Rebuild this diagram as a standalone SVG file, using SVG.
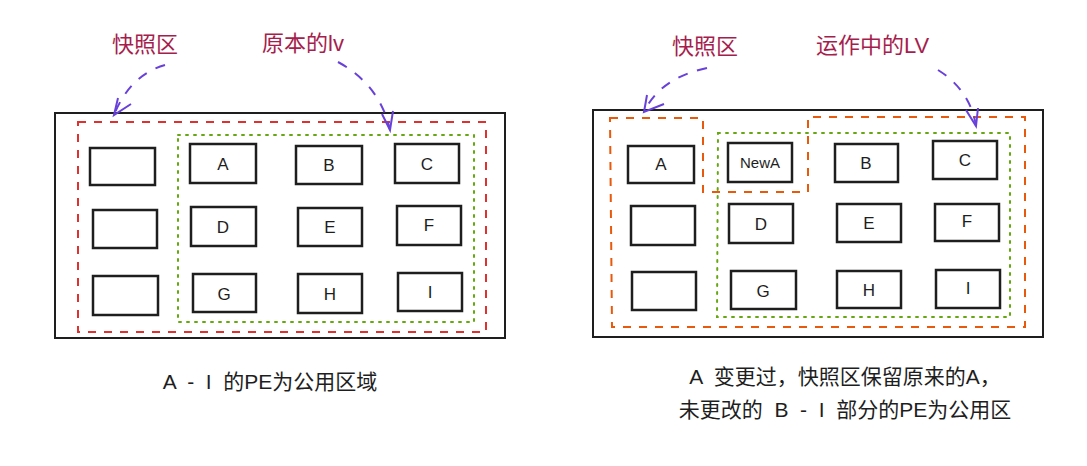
<svg xmlns="http://www.w3.org/2000/svg" width="1087" height="466" viewBox="0 0 1087 466">
<style>
.frame{fill:none;stroke:#1e1e1e;stroke-width:2}
.box{fill:none;stroke:#1e1e1e;stroke-width:2.5}
.red{fill:none;stroke:#e03131;stroke-width:2;stroke-dasharray:8 8}
.orange{fill:none;stroke:#e8590c;stroke-width:2;stroke-dasharray:8 8}
.green{fill:none;stroke:#66a80f;stroke-width:2;stroke-dasharray:2 6;stroke-linecap:round}
.arr{fill:none;stroke:#6741d9;stroke-width:2;stroke-dasharray:10 10}
.head{fill:none;stroke:#6741d9;stroke-width:2}
.lbl{font-family:"Liberation Sans","Noto Sans CJK SC",sans-serif;font-size:22px;fill:#a61e4d}
.t{font-family:"Liberation Sans",sans-serif;font-size:17px;fill:#1e1e1e;text-anchor:middle}
.cap{font-family:"Liberation Sans","Noto Sans CJK SC",sans-serif;font-size:21px;fill:#1e1e1e;text-anchor:middle}
</style>
<rect width="1087" height="466" fill="#fff"/>
<g id="left">
<rect class="frame" x="55" y="113" width="450" height="225"/>
<rect class="red" x="78" y="122" width="408" height="210"/>
<rect class="green" x="178" y="135" width="296" height="187"/>
<g id="l-e1"><rect class="box" x="90" y="148" width="65" height="37"/></g>
<g id="l-e2"><rect class="box" x="93" y="210" width="64" height="38"/></g>
<g id="l-e3"><rect class="box" x="93" y="276" width="65" height="39"/></g>
<g id="l-A"><rect class="box" x="190" y="144" width="66" height="39"/><text class="t" x="223" y="170">A</text></g>
<g id="l-B"><rect class="box" x="296" y="146" width="66" height="38"/><text class="t" x="329" y="171">B</text></g>
<g id="l-C"><rect class="box" x="395" y="144" width="64" height="39"/><text class="t" x="427" y="170">C</text></g>
<g id="l-D"><rect class="box" x="191" y="207" width="65" height="39"/><text class="t" x="223" y="233">D</text></g>
<g id="l-E"><rect class="box" x="298" y="208" width="64" height="38"/><text class="t" x="330" y="233">E</text></g>
<g id="l-F"><rect class="box" x="397" y="206" width="64" height="39"/><text class="t" x="429" y="231">F</text></g>
<g id="l-G"><rect class="box" x="193" y="274" width="63" height="38"/><text class="t" x="224" y="300">G</text></g>
<g id="l-H"><rect class="box" x="298" y="274" width="64" height="39"/><text class="t" x="330" y="300">H</text></g>
<g id="l-I"><rect class="box" x="398" y="273" width="64" height="38"/><text class="t" x="430" y="298">I</text></g>
<text class="lbl" x="112" y="52">快照区</text>
<text class="lbl" x="262" y="51">原本的lv</text>
<text class="cap" x="270" y="389" xml:space="preserve">A  -  I  的PE为公用区域</text>
</g>
<g id="right">
<rect class="frame" x="593" y="110" width="450" height="227"/>
<path class="orange" d="M610 118 H703 V192 H808 V117 H1025 V327 H612 Z"/>
<path class="green" d="M718 133 H1010 V317 H717 Z"/>
<g id="r-A"><rect class="box" x="628" y="146" width="66" height="37"/><text class="t" x="661" y="170">A</text></g>
<g id="r-NewA"><rect class="box" x="728" y="143" width="64" height="39"/><text class="t" x="760" y="168" style="font-size:15px">NewA</text></g>
<g id="r-B"><rect class="box" x="835" y="144" width="63" height="38"/><text class="t" x="866" y="169">B</text></g>
<g id="r-C"><rect class="box" x="933" y="141" width="64" height="38"/><text class="t" x="965" y="166">C</text></g>
<g id="r-e2"><rect class="box" x="631" y="206" width="64" height="39"/></g>
<g id="r-D"><rect class="box" x="729" y="204" width="64" height="39"/><text class="t" x="761" y="230">D</text></g>
<g id="r-E"><rect class="box" x="837" y="204" width="64" height="38"/><text class="t" x="869" y="229">E</text></g>
<g id="r-F"><rect class="box" x="935" y="204" width="64" height="37"/><text class="t" x="967" y="227">F</text></g>
<g id="r-e3"><rect class="box" x="632" y="272" width="64" height="38"/></g>
<g id="r-G"><rect class="box" x="731" y="271" width="65" height="38"/><text class="t" x="763" y="297">G</text></g>
<g id="r-H"><rect class="box" x="837" y="271" width="64" height="37"/><text class="t" x="869" y="296">H</text></g>
<g id="r-I"><rect class="box" x="936" y="270" width="64" height="38"/><text class="t" x="968" y="294">I</text></g>
<text class="lbl" x="672" y="54">快照区</text>
<text class="lbl" x="816" y="53">运作中的LV</text>
<text class="cap" x="845" y="384" xml:space="preserve">A  变更过，快照区保留原来的A，</text>
<text class="cap" x="845" y="417" xml:space="preserve">未更改的  B  -  I  部分的PE为公用区</text>
</g>
<g id="connectors">
<path class="arr" d="M165 65 Q130 75 114 115"/>
<path class="head" d="M118 98 L114 115 L131 104"/>
<path class="arr" d="M338 62 Q380 85 390 130"/>
<path class="head" d="M382 114 L390 130 L393 111"/>
<path class="arr" d="M707 68 Q660 78 644 112"/>
<path class="head" d="M647 95 L644 112 L664 104"/>
<path class="arr" d="M938 70 Q970 90 976 126"/>
<path class="head" d="M966 110 L976 126 L978 108"/>
</g>
</svg>
